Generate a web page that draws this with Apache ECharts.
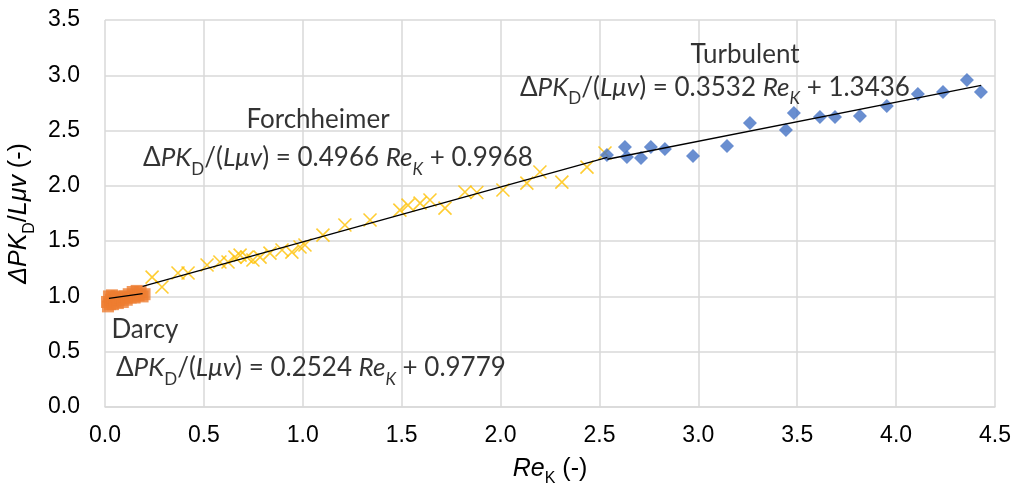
<!DOCTYPE html>
<html>
<head>
<meta charset="utf-8">
<script src="https://cdn.jsdelivr.net/npm/echarts@6/dist/echarts.min.js"></script>
<style>
  html, body { margin: 0; padding: 0; background: #fff; }
  #chart { width: 1020px; height: 484px; }
</style>
</head>
<body>
<div id="chart"></div>
<script>
// Measured points: [Re_K, ΔPK_D/(Lμv)]
const darcyPts = [
  [0.01, 0.95], [0.015, 0.91], [0.02, 1.00], [0.025, 0.93], [0.03, 0.97],
  [0.035, 1.01], [0.04, 0.93], [0.045, 0.99], [0.05, 0.96], [0.06, 1.00],
  [0.065, 0.94], [0.07, 0.97], [0.08, 0.99], [0.09, 0.95], [0.10, 1.00],
  [0.11, 0.97], [0.12, 1.02], [0.13, 0.99], [0.14, 1.04], [0.15, 0.99],
  [0.16, 1.05], [0.17, 1.01], [0.18, 1.04], [0.19, 1.00], [0.20, 1.02]
];
const forchPts = [
  [0.238, 1.175], [0.288, 1.085], [0.369, 1.212], [0.420, 1.212], [0.516, 1.284],
  [0.581, 1.311], [0.622, 1.311], [0.657, 1.356], [0.683, 1.374], [0.718, 1.356],
  [0.748, 1.329], [0.784, 1.356], [0.834, 1.392], [0.895, 1.420], [0.945, 1.401],
  [0.986, 1.447], [1.011, 1.465], [1.102, 1.555], [1.213, 1.646], [1.340, 1.691],
  [1.491, 1.781], [1.532, 1.826], [1.593, 1.844], [1.643, 1.872], [1.719, 1.799],
  [1.820, 1.944], [1.880, 1.940], [2.012, 1.962], [2.133, 2.025], [2.199, 2.125],
  [2.310, 2.034], [2.437, 2.170], [2.528, 2.297]
];
const turbPts = [
  [2.538, 2.278], [2.629, 2.351], [2.639, 2.260], [2.710, 2.251], [2.760, 2.351],
  [2.831, 2.333], [2.973, 2.269], [3.145, 2.360], [3.261, 2.568], [3.443, 2.505],
  [3.483, 2.658], [3.615, 2.622], [3.691, 2.622], [3.817, 2.631], [3.953, 2.722],
  [4.110, 2.830], [4.237, 2.848], [4.358, 2.957], [4.429, 2.848]
];

// Linear fits: [slope, intercept, xStart, xEnd]
const darcyFit = [0.2524, 0.9779, 0.02, 0.19];
const forchFit = [0.4966, 0.9968, 0.19, 2.54];
const turbFit = [0.3532, 1.3436, 2.54, 4.43];

const xTicks = ['0.0', '0.5', '1.0', '1.5', '2.0', '2.5', '3.0', '3.5', '4.0', '4.5'];
const yTicks = ['0.0', '0.5', '1.0', '1.5', '2.0', '2.5', '3.0', '3.5'];

// Regime labels and fit equations: [x, y, text]
const notes = [
  [1.077, 2.595, '{n|Forchheimer}'],
  [1.178, 2.251, 'eq:0.4966:0.9968'],
  [3.236, 3.183, '{n|Turbulent}'],
  [3.084, 2.893, 'eq:0.3532:1.3436'],
  [0.202, 0.696, '{n|Darcy}'],
  [1.041, 0.353, 'eq:0.2524:0.9779']
];

function fitLine(f) {
  return [[f[2], f[0] * f[2] + f[1]], [f[3], f[0] * f[3] + f[1]]];
}
function eqText(s) {
  const p = s.split(':');
  return '{n|Δ}{i|PK}{s|D}{n|/(}{i|Lμv}{n|) = ' + p[1] + ' }{i|Re}{si|K}{n| + ' + p[2] + '}';
}

const noteFont = 'Lato, "Open Sans", sans-serif';
const noteSize = 26;
const subSize = 17;
const noteRich = {
  n: { fontFamily: noteFont, fontSize: noteSize, color: '#000', lineHeight: 30 },
  i: { fontFamily: noteFont, fontSize: noteSize, color: '#000', fontStyle: 'italic', lineHeight: 30 },
  s: { fontFamily: noteFont, fontSize: subSize, color: '#000', verticalAlign: 'bottom', lineHeight: 17, padding: [0, 0, -5, 0] },
  si: { fontFamily: noteFont, fontSize: subSize, color: '#000', fontStyle: 'italic', verticalAlign: 'bottom', lineHeight: 17, padding: [0, 0, -5, 0] }
};

const axisFont = '"Liberation Sans", Arial, sans-serif';
const tickSize = 23;
const titleSize = 25;
const titleRich = {
  n: { fontFamily: axisFont, fontSize: titleSize, color: '#000', lineHeight: 28 },
  i: { fontFamily: axisFont, fontSize: titleSize, color: '#000', fontStyle: 'italic', lineHeight: 28 },
  s: { fontFamily: axisFont, fontSize: 16, color: '#000', verticalAlign: 'bottom', lineHeight: 16, padding: [0, 0, -4, 0] }
};

const chart = echarts.init(document.getElementById('chart'), null, { renderer: 'canvas' });
chart.setOption({
  animation: false,
  backgroundColor: '#fff',
  grid: { left: 105, right: 25, top: 20, bottom: 77, outerBoundsMode: 'none', containLabel: false },
  xAxis: {
    type: 'value', min: 0, max: 4.5, interval: 0.5,
    axisLine: { show: true, onZero: false, lineStyle: { color: '#d9d9d9', width: 1.5 } },
    axisTick: { show: false },
    splitLine: { show: true, lineStyle: { color: '#d9d9d9', width: 1.5 } },
    axisLabel: {
      color: '#000', fontFamily: axisFont, fontSize: tickSize, margin: 17,
      formatter: (v) => xTicks[Math.round(v / 0.5)]
    },
    name: '{i|Re}{s|K}{n| (-)}',
    nameLocation: 'middle', nameGap: 48,
    nameTextStyle: { rich: titleRich }
  },
  yAxis: {
    type: 'value', min: 0, max: 3.5, interval: 0.5,
    axisLine: { show: false },
    axisTick: { show: false },
    splitLine: { show: true, lineStyle: { color: '#d9d9d9', width: 1.5 } },
    axisLabel: {
      color: '#000', fontFamily: axisFont, fontSize: tickSize, margin: 25,
      formatter: (v) => yTicks[Math.round(v / 0.5)]
    },
    name: '{i|ΔPK}{s|D}{n|/}{i|Lμv}{n| (-)}',
    nameLocation: 'middle', nameGap: 70,
    nameTextStyle: { rich: titleRich }
  },
  series: [
    {
      name: 'Forchheimer', type: 'scatter', data: forchPts, z: 3,
      symbol: 'path://M0,0L10,10M10,0L0,10', symbolSize: 13,
      itemStyle: { color: 'none', borderColor: '#FFC000', borderWidth: 1.6 }
    },
    {
      name: 'Turbulent', type: 'scatter', data: turbPts, z: 4,
      symbol: 'diamond', symbolSize: 14,
      itemStyle: { color: '#4472C4' }
    },
    {
      name: 'Darcy', type: 'scatter', data: darcyPts, z: 4,
      symbol: 'rect', symbolSize: 12,
      itemStyle: { color: '#ED7D31' }
    },
    {
      type: 'line', data: fitLine(darcyFit), symbol: 'none', z: 6,
      lineStyle: { color: '#000', width: 1.3 }
    },
    {
      type: 'line', data: fitLine(forchFit), symbol: 'none', z: 6,
      lineStyle: { color: '#000', width: 1.3 }
    },
    {
      type: 'line', data: fitLine(turbFit), symbol: 'none', z: 6,
      lineStyle: { color: '#000', width: 1.3 }
    },
    {
      type: 'scatter', z: 8, symbolSize: 0, silent: true,
      data: notes.map(d => ({ value: [d[0], d[1]], note: d[2] })),
      label: {
        show: true, position: 'inside',
        formatter: (p) => {
          const t = p.data.note;
          return t.startsWith('eq:') ? eqText(t) : t;
        },
        rich: noteRich
      }
    }
  ]
});
</script>
</body>
</html>
